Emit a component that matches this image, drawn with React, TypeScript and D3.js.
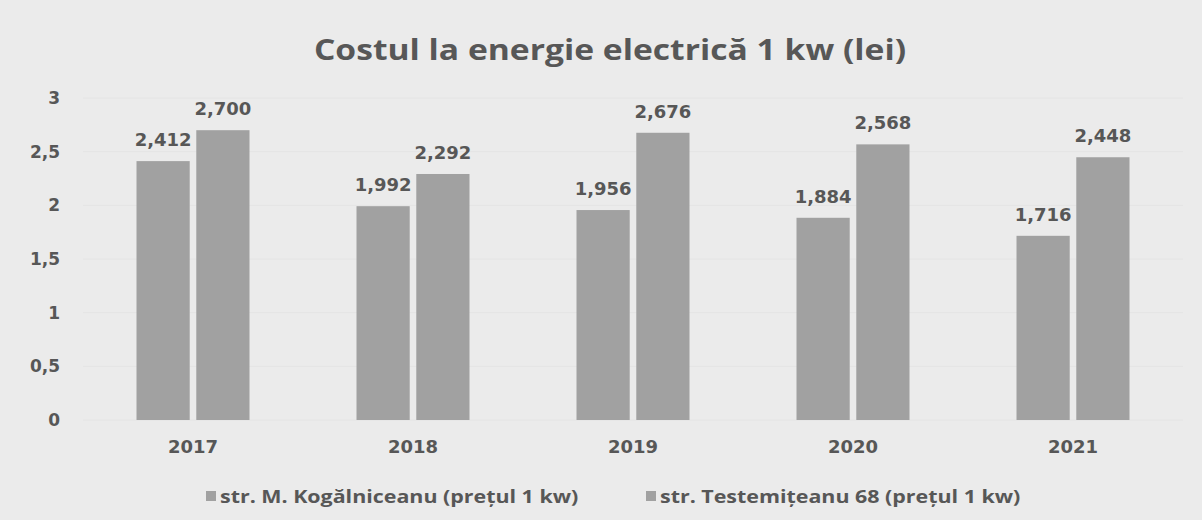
import React from "react";
import * as d3 from "d3";

const years = ["2017", "2018", "2019", "2020", "2021"];
const kogalniceanu = [2.412, 1.992, 1.956, 1.884, 1.716];
const testemiteanu = [2.7, 2.292, 2.676, 2.568, 2.448];
const yTicks = [0, 0.5, 1, 1.5, 2, 2.5, 3];
const seriesNames = ["str. M. Kogălniceanu (prețul 1 kw)", "str. Testemițeanu 68 (prețul 1 kw)"];
const title = "Costul la energie electrică 1 kw (lei)";

const W = 1202;
const H = 520;
const FONT = "'Open Sans', sans-serif";
const NUMFONT = "'DejaVu Sans', sans-serif";
const TEXT = "#575757";
const BAR = "#a1a1a1";

export default function App() {
  const x = d3.scaleBand<string>().domain(years).range([83, 1183]).paddingInner(0).paddingOuter(0);
  const inner = d3.scaleBand<number>().domain([0, 1]).range([0, 113]).paddingInner(0.11);
  const y = d3.scaleLinear().domain([0, 3]).range([420, 98]);
  const fmt = (v: number) => d3.format(".3f")(v).replace(".", ",");
  const tickFmt = (v: number) => String(v).replace(".", ",");
  const series = [kogalniceanu, testemiteanu];
  const legendX = [206, 646];

  return (
    <div style={{ position: "fixed", left: 0, top: 0 }}>
      <svg width={W} height={H} style={{ display: "block" }}>
        <rect x={0} y={0} width={W} height={H} fill="#ebebeb" />
        <text transform="translate(610,60) scale(1.16,1)" textAnchor="middle" fontFamily={FONT} fontWeight="bold" fontSize={29} fill={TEXT}>
          {title}
        </text>
        {yTicks.map((t) => (
          <g key={t}>
            <line x1={83} x2={1183} y1={y(t)} y2={y(t)} stroke="#e4e4e4" strokeWidth={1} />
            <text x={60} y={y(t) + 6} textAnchor="end" fontFamily={NUMFONT} fontWeight="bold" fontSize={17} fill={TEXT}>
              {tickFmt(t)}
            </text>
          </g>
        ))}
        {years.map((yr, i) => {
          const gx = x(yr)! + (x.bandwidth() - 113) / 2;
          return (
            <g key={yr}>
              {series.map((s, k) => {
                const bx = gx + inner(k)!;
                const bw = inner.bandwidth();
                return (
                  <g key={k}>
                    <rect x={bx} y={y(s[i])} width={bw} height={y(0) - y(s[i])} fill={BAR} />
                    <text x={bx + bw / 2} y={y(s[i]) - 15} textAnchor="middle" fontFamily={NUMFONT} fontWeight="bold" fontSize={18} fill={TEXT}>
                      {fmt(s[i])}
                    </text>
                  </g>
                );
              })}
              <text x={x(yr)! + x.bandwidth() / 2} y={453} textAnchor="middle" fontFamily={NUMFONT} fontWeight="bold" fontSize={18} fill={TEXT}>
                {yr}
              </text>
            </g>
          );
        })}
        {seriesNames.map((n, k) => {
          const lx = legendX[k];
          return (
            <g key={n}>
              <rect x={lx} y={491} width={10} height={10} fill={BAR} />
              <text transform={`translate(${lx + 14},503) scale(1.19,1)`} fontFamily={FONT} fontWeight="bold" fontSize={18} fill={TEXT}>
                {n}
              </text>
            </g>
          );
        })}
      </svg>
    </div>
  );
}
